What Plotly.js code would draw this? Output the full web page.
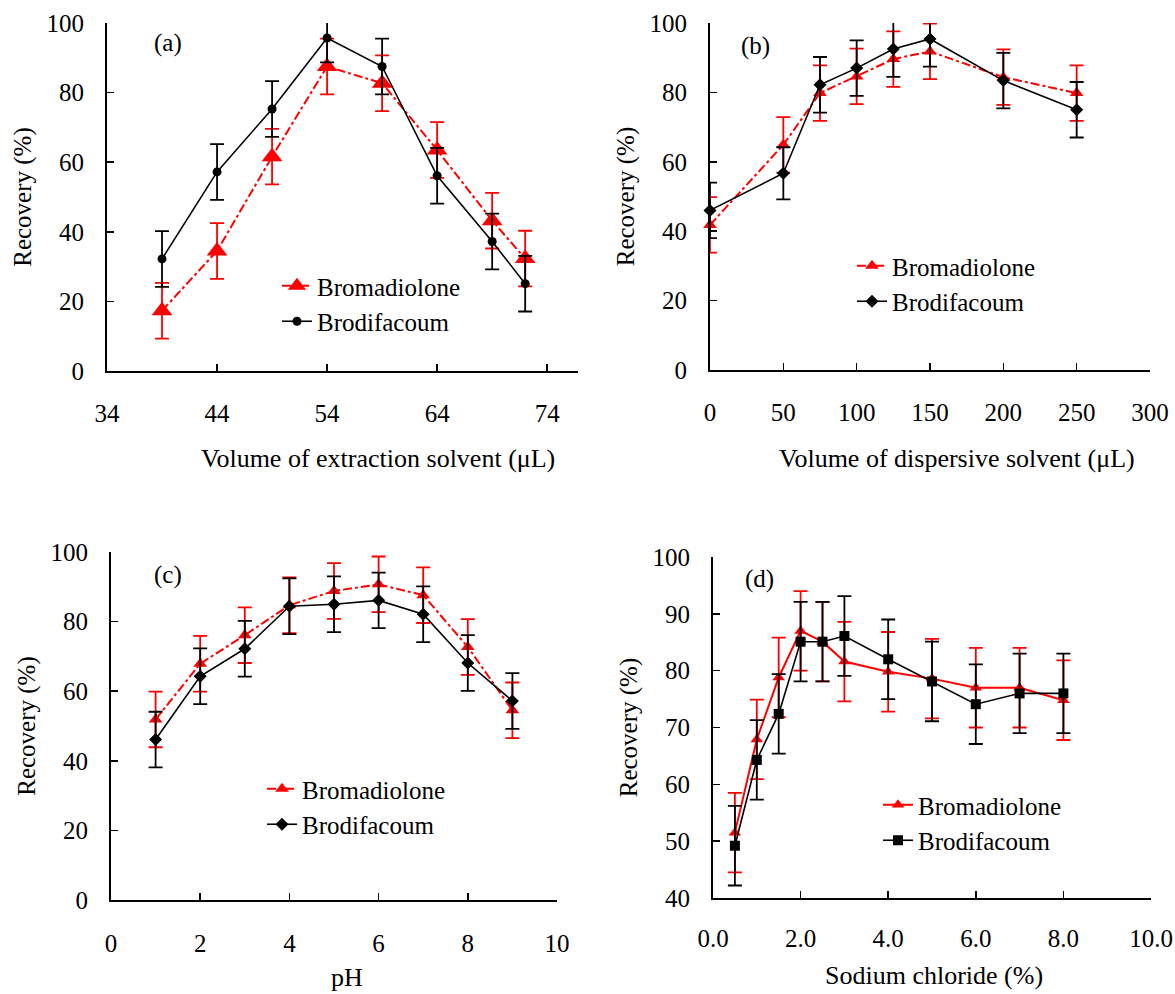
<!DOCTYPE html>
<html>
<head>
<meta charset="utf-8">
<script src="https://cdn.plot.ly/plotly-3.0.1.min.js"></script>
<style>html,body{margin:0;padding:0;background:#fff;}#chart{width:1175px;height:994px;}</style>
</head>
<body>
<div id="chart"></div>
<script>
// ---- Data ----
// (a) Volume of extraction solvent (µL)
var aX = [39, 44, 49, 54, 59, 64, 69, 72];
var aBromadiolone = [17.3, 34.5, 61.6, 87.5, 82.7, 63.5, 43.2, 32.3];
var aBromadioloneErr = [8, 8, 8, 8, 8, 8, 8, 8];
var aBrodifacoum = [32.2, 57.2, 75.3, 95.7, 87.5, 56.1, 37.2, 25.1];
var aBrodifacoumErr = [8, 8, 8, 7, 8, 8, 8, 8];

// (b) Volume of dispersive solvent (µL)
var bX = [0, 50, 75, 100, 125, 150, 200, 250];
var bBromadiolone = [41.8, 64.9, 79.8, 84.6, 89.6, 91.8, 84.4, 79.8];
var bBromadioloneErr = [8, 8, 8, 8, 8, 8, 8, 8];
var bBrodifacoum = [46.0, 56.7, 82.2, 87.0, 92.5, 95.4, 83.4, 75.0];
var bBrodifacoumErr = [8, 7.5, 8, 8, 8, 8, 8, 8];

// (c) pH
var cX = [1, 2, 3, 4, 5, 6, 7, 8, 9];
var cBromadiolone = [51.9, 67.9, 76.1, 84.7, 88.8, 90.7, 87.6, 72.7, 54.5];
var cBromadioloneErr = [8, 8, 8, 8, 8, 8, 8, 8, 8];
var cBrodifacoum = [46.1, 64.3, 72.2, 84.4, 85.0, 86.1, 82.1, 68.1, 57.2];
var cBrodifacoumErr = [8, 8, 8, 8, 8, 8, 8, 8, 8];

// (d) Sodium chloride (%)
var dX = [0.5, 1, 1.5, 2, 2.5, 3, 4, 5, 6, 7, 8];
var dBromadiolone = [51.5, 67.9, 78.8, 87.0, 85.1, 81.6, 79.8, 78.6, 77.0, 77.0, 74.8];
var dBromadioloneErr = [7, 7, 7, 7, 7, 7, 7, 7, 7, 7, 7];
var dBrodifacoum = [49.2, 64.3, 72.4, 85.1, 85.1, 86.1, 82.0, 78.1, 74.1, 76.0, 76.0];
var dBrodifacoumErr = [7, 7, 7, 7, 7, 7, 7, 7, 7, 7, 7];

var seriesNames = ['Bromadiolone', 'Brodifacoum'];
var panelLabels = ['(a)', '(b)', '(c)', '(d)'];
var xTitles = ['Volume of extraction solvent (\u03bcL)', 'Volume of dispersive solvent (\u03bcL)', 'pH', 'Sodium chloride (%)'];
var yTitle = 'Recovery (%)';

// ---- Styling ----
var FONT = "'Liberation Serif', 'Times New Roman', serif";
var FS = 25;
var FT = 26;
var RED = '#ff0000';
var BLK = '#000000';

function errY(arr, color) {
  return {type: 'data', array: arr, visible: true, color: color, thickness: 1.8, width: 7};
}
function tr(x, y, err, name, ax, color, dash, symbol, size, legend) {
  return {
    x: x, y: y, type: 'scatter', mode: 'lines+markers', name: name,
    xaxis: 'x' + ax, yaxis: 'y' + ax, legend: legend,
    line: {color: color, width: color === RED ? 2 : 1.6, dash: dash},
    marker: {color: color, symbol: symbol, size: size},
    error_y: errY(err, color), cliponaxis: false
  };
}

var data = [
  tr(aX, aBromadiolone, aBromadioloneErr, seriesNames[0], '', RED, 'dashdot', 'triangle-up', 18, 'legend'),
  tr(aX, aBrodifacoum, aBrodifacoumErr, seriesNames[1], '', BLK, 'solid', 'circle', 9, 'legend'),
  tr(bX, bBromadiolone, bBromadioloneErr, seriesNames[0], '2', RED, 'dashdot', 'triangle-up', 12, 'legend2'),
  tr(bX, bBrodifacoum, bBrodifacoumErr, seriesNames[1], '2', BLK, 'solid', 'diamond', 10, 'legend2'),
  tr(cX, cBromadiolone, cBromadioloneErr, seriesNames[0], '3', RED, 'dashdot', 'triangle-up', 12, 'legend3'),
  tr(cX, cBrodifacoum, cBrodifacoumErr, seriesNames[1], '3', BLK, 'solid', 'diamond', 10, 'legend3'),
  tr(dX, dBromadiolone, dBromadioloneErr, seriesNames[0], '4', RED, 'solid', 'triangle-up', 11, 'legend4'),
  tr(dX, dBrodifacoum, dBrodifacoumErr, seriesNames[1], '4', BLK, 'solid', 'square', 10, 'legend4')
];

var W = 1175, H = 994;
function px(v) { return v / W; }
function py(v) { return 1 - v / H; }

function xax(anchor, domain, range, dtick, labelOff, fmt) {
  return {
    anchor: anchor, domain: domain, range: range, dtick: dtick, tick0: range[0], tickformat: fmt || '',
    showgrid: false, zeroline: false, showline: true, linecolor: BLK, linewidth: 2,
    ticks: 'inside', ticklen: 7, tickwidth: 1.5, tickcolor: BLK,
    ticklabelstandoff: labelOff, tickfont: {family: FONT, size: FS, color: BLK},
    automargin: false, fixedrange: true
  };
}
function yax(anchor, domain, range, dtick) {
  return {
    anchor: anchor, domain: domain, range: range, dtick: dtick, tick0: range[0],
    showgrid: false, zeroline: false, showline: true, linecolor: BLK, linewidth: 2,
    ticks: 'inside', ticklen: 7, tickwidth: 1.5, tickcolor: BLK,
    ticklabelstandoff: 16, tickfont: {family: FONT, size: FS, color: BLK},
    title: {text: yTitle, font: {family: FONT, size: FS, color: BLK}, standoff: 8},
    automargin: false, fixedrange: true
  };
}
function leg(xp, yp) {
  return {x: px(xp), y: py(yp), xanchor: 'left', yanchor: 'top', bgcolor: 'rgba(0,0,0,0)',
    font: {family: FONT, size: FS, color: BLK}, tracegroupgap: 0, itemwidth: 30};
}
function note(text, xp, yp, size) {
  return {text: text, xref: 'paper', yref: 'paper', x: px(xp), y: py(yp), xanchor: 'center', yanchor: 'middle',
    showarrow: false, font: {family: FONT, size: size, color: BLK}};
}

var layout = {
  width: W, height: H, margin: {l: 0, r: 0, t: 0, b: 0},
  paper_bgcolor: '#ffffff', plot_bgcolor: '#ffffff', showlegend: true,
  font: {family: FONT, size: FS, color: BLK},
  xaxis: xax('y', [px(107), px(578)], [34, 76.8], 10, 19),
  yaxis: yax('x', [py(371), py(23)], [0, 100], 20),
  xaxis2: xax('y2', [px(710), px(1150)], [0, 300], 50, 19),
  yaxis2: yax('x2', [py(370), py(23)], [0, 100], 20),
  xaxis3: xax('y3', [px(111), px(557)], [0, 10], 2, 20),
  yaxis3: yax('x3', [py(900), py(552)], [0, 100], 20),
  xaxis4: xax('y4', [px(713), px(1151)], [0, 10], 2, 17, '.1f'),
  yaxis4: yax('x4', [py(898), py(557)], [40, 100], 10),
  legend: leg(277, 263),
  legend2: leg(852, 243),
  legend3: leg(262, 766),
  legend4: leg(878, 782),
  annotations: [
    note(panelLabels[0], 168, 43, FS),
    note(panelLabels[1], 755, 46, FS),
    note(panelLabels[2], 168, 575, FS),
    note(panelLabels[3], 759, 579, FS),
    note(xTitles[0], 378, 458, FT),
    note(xTitles[1], 957, 458, FT),
    note(xTitles[2], 347, 977, FT),
    note(xTitles[3], 934, 975, FT)
  ]
};

Plotly.newPlot('chart', data, layout, {staticPlot: true, displayModeBar: false});
</script>
</body>
</html>
